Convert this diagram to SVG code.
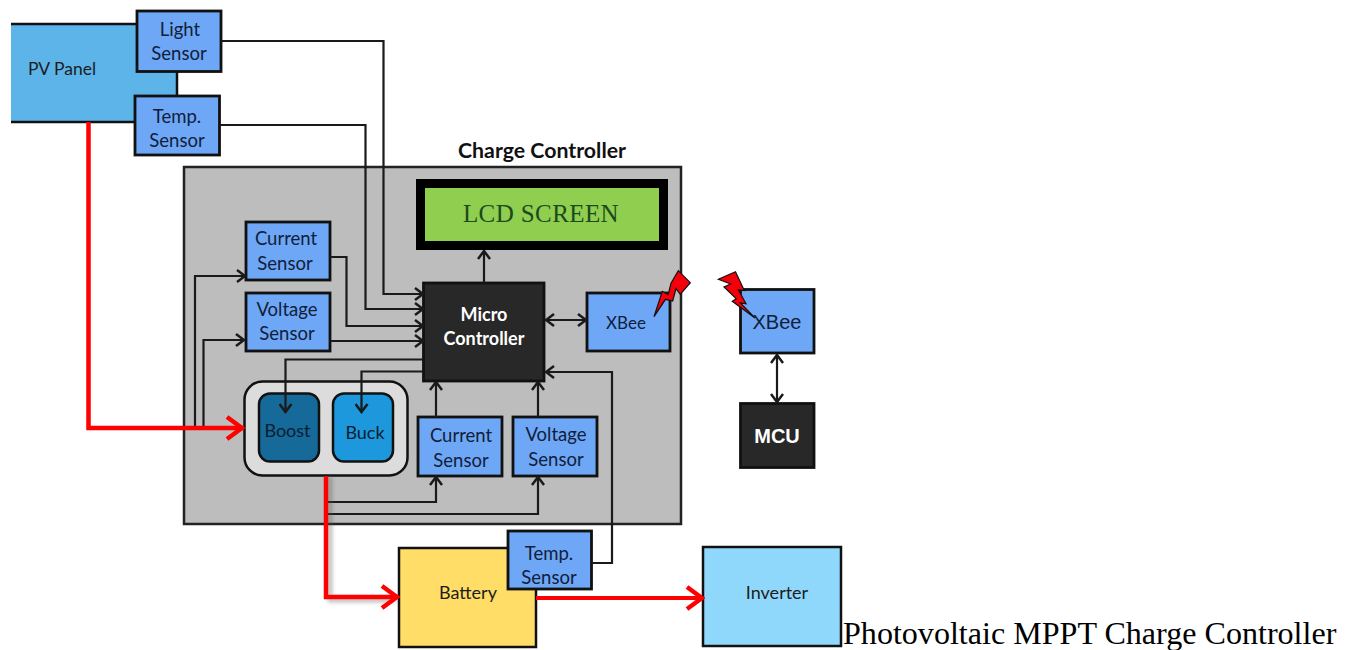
<svg xmlns="http://www.w3.org/2000/svg" width="1349" height="650" viewBox="0 0 1349 650">
<style>
text{font-family:Lato,"Open Sans","Liberation Sans",sans-serif;text-anchor:middle;fill:#10203c}
.s rect{fill:#6ea7f5;stroke:#111;stroke-width:2.8}
.s text{font-size:18.500px}
.k rect{fill:#282828;stroke:#111;stroke-width:2.8}
.k text{fill:#fff;font-weight:700;font-size:18px}
.w{fill:none;stroke:#1a1a1a;stroke-width:2.2}
.r{fill:none;stroke:#f00;stroke-width:4.500}
.t{fill:#1c1c1c}
.z{fill:#f5000a;stroke:#111;stroke-width:1.200;stroke-linejoin:miter}
</style>
<defs>
<marker id="a" viewBox="0 0 14 14" refX="12.500" refY="7" markerWidth="14" markerHeight="14" markerUnits="userSpaceOnUse" orient="auto-start-reverse"><path d="M4.500 1L12.500 7L4.500 13" fill="none" stroke="#1a1a1a" stroke-width="2.500"/></marker>
<marker id="ra" viewBox="0 0 22 26" refX="20" refY="13" markerWidth="22" markerHeight="26" markerUnits="userSpaceOnUse" orient="auto"><path d="M4 2L19 13L4 24" fill="none" stroke="#f00" stroke-width="4.500"/></marker>
<filter id="sh" x="-30%" y="-30%" width="160%" height="160%"><feGaussianBlur stdDeviation="2"/></filter>
</defs>
<rect width="1349" height="650" fill="#fff"/>
<g id="charge-controller"><rect x="184" y="167" width="497" height="357" fill="#bdbdbd" stroke="#222" stroke-width="2.500"/><text x="542" y="157.500" style="font-size:21.300px;font-weight:700;fill:#111">Charge Controller</text></g>
<g id="pv-panel"><rect x="11" y="24" width="166" height="98" fill="#5cb4e8"/><path d="M11 24H177V96M11 122H140" fill="none" stroke="#111" stroke-width="2.500"/><text class="t" x="62" y="75" style="font-size:17.500px">PV Panel</text></g>
<g id="light-sensor" class="s"><rect x="137" y="11" width="84" height="60.500"/><text x="180" y="36">Light</text><text x="179" y="60">Sensor</text></g>
<g id="temp-sensor-pv" class="s"><rect x="135" y="96" width="84.500" height="59"/><text x="177" y="123">Temp.</text><text x="177" y="147">Sensor</text></g>
<g id="lcd-screen"><rect x="420.500" y="183.500" width="243" height="62" fill="#8fce4f" stroke="#000" stroke-width="9"/><text x="541" y="222" style="font-family:'Liberation Serif',serif;font-size:25px;letter-spacing:.4px;fill:#1d4a1c">LCD SCREEN</text></g>
<g id="current-sensor-top" class="s"><rect x="246" y="222" width="84" height="58"/><text x="286" y="245">Current</text><text x="285" y="270">Sensor</text></g>
<g id="voltage-sensor-top" class="s"><rect x="246" y="293" width="84" height="58"/><text x="287" y="316">Voltage</text><text x="287" y="340">Sensor</text></g>
<g id="micro-controller" class="k"><rect x="423.500" y="283" width="120.500" height="98"/><text x="484" y="321">Micro</text><text x="484" y="345">Controller</text></g>
<g id="xbee-a" class="s"><rect x="587" y="293" width="83" height="58"/><text x="626" y="329" style="font-size:17px">XBee</text></g>
<g id="converter"><rect x="244.500" y="381.500" width="163" height="94" rx="18" fill="#dcdcdc" stroke="#111" stroke-width="2.500"/></g>
<g id="boost"><rect x="259" y="393.500" width="60" height="68" rx="11" fill="#166a9a" stroke="#111" stroke-width="2.500"/><text x="287.500" y="437" style="font-size:18px;fill:#0b1d30">Boost</text></g>
<g id="buck"><rect x="333" y="393.500" width="60" height="68" rx="11" fill="#1e98dc" stroke="#111" stroke-width="2.500"/><text x="365" y="439" style="font-size:18px;fill:#0b1d30">Buck</text></g>
<g id="current-sensor-low" class="s"><rect x="418" y="417" width="84" height="59"/><text x="461" y="442">Current</text><text x="461" y="467">Sensor</text></g>
<g id="voltage-sensor-low" class="s"><rect x="513" y="417" width="84" height="59"/><text x="556" y="441">Voltage</text><text x="556" y="466">Sensor</text></g>
<g id="battery"><rect x="399" y="548" width="137" height="99" fill="#ffdd66" stroke="#111" stroke-width="2.500"/><text class="t" x="468" y="599" style="font-size:18px">Battery</text></g>
<g id="temp-sensor-battery" class="s"><rect x="508" y="531" width="83.500" height="58"/><text x="549" y="560">Temp.</text><text x="549" y="584">Sensor</text></g>
<g id="inverter"><rect x="703" y="547" width="138" height="99" fill="#90d8fb" stroke="#111" stroke-width="2.500"/><text class="t" x="777" y="599" style="font-size:18px">Inverter</text></g>
<g id="xbee-b" class="s"><rect x="740.500" y="289.500" width="73.500" height="63.500"/><text x="777" y="329" style="font-family:'Liberation Sans',sans-serif;font-size:20px">XBee</text></g>
<g id="mcu" class="k"><rect x="740.500" y="403.500" width="73.500" height="64"/><text x="777" y="443" style="font-family:'Liberation Sans',sans-serif;font-size:20px">MCU</text></g>
<g id="connectors">
<path d="M221 41H383.500V294H423" class="w" marker-end="url(#a)"/>
<path d="M220 125H365.500V309H423" class="w" marker-end="url(#a)"/>
<path d="M330 257H346.500V326H423" class="w" marker-end="url(#a)"/>
<path d="M330 341H423" class="w" marker-end="url(#a)"/>
<path d="M195 428V276H245" class="w" marker-end="url(#a)"/>
<path d="M203.500 428V340H244" class="w" marker-end="url(#a)"/>
<path d="M423 359.500H285.500V412" class="w" marker-end="url(#a)"/>
<path d="M423 371.500H361.500V412" class="w" marker-end="url(#a)"/>
<path d="M436 417V382" class="w" marker-end="url(#a)"/>
<path d="M538 417V382" class="w" marker-end="url(#a)"/>
<path d="M328 502H436V477" class="w" marker-end="url(#a)"/>
<path d="M328 514H538V477" class="w" marker-end="url(#a)"/>
<path d="M591 563H612V372H546" class="w" marker-end="url(#a)"/>
<path d="M484 283V251" class="w" marker-end="url(#a)"/>
<path d="M546 320H586" class="w" marker-start="url(#a)" marker-end="url(#a)"/>
<path d="M777 355V402" class="w" marker-start="url(#a)" marker-end="url(#a)"/>
<path d="M330 477V600H396" fill="none" stroke="#555" stroke-width="4" opacity=".45" filter="url(#sh)"/>
<path d="M88.500 122V428H243" class="r" marker-end="url(#ra)"/>
<path d="M326 476V597H398" class="r" marker-end="url(#ra)"/>
<path d="M536 598H703" class="r" style="stroke-width:4" marker-end="url(#ra)"/>
</g>
<polygon class="z" points="654,316.700 662.300,291.300 668.200,294.700 671,283.300 678.300,270.700 690.300,282.700 680.300,294.300 676,288.700 672.700,301 665.500,299.300"/>
<polygon class="z" points="718.300,279.300 735.500,271.700 744.300,290.500 738.300,289.800 746,303.800 740.300,302.800 755,318 732.300,301.200 736.300,298.800 724,287 730.700,284"/>
<text id="caption" x="843" y="643.500" style="font-family:'Liberation Serif',serif;font-size:32.100px;text-anchor:start;fill:#000">Photovoltaic MPPT Charge Controller</text>
</svg>
